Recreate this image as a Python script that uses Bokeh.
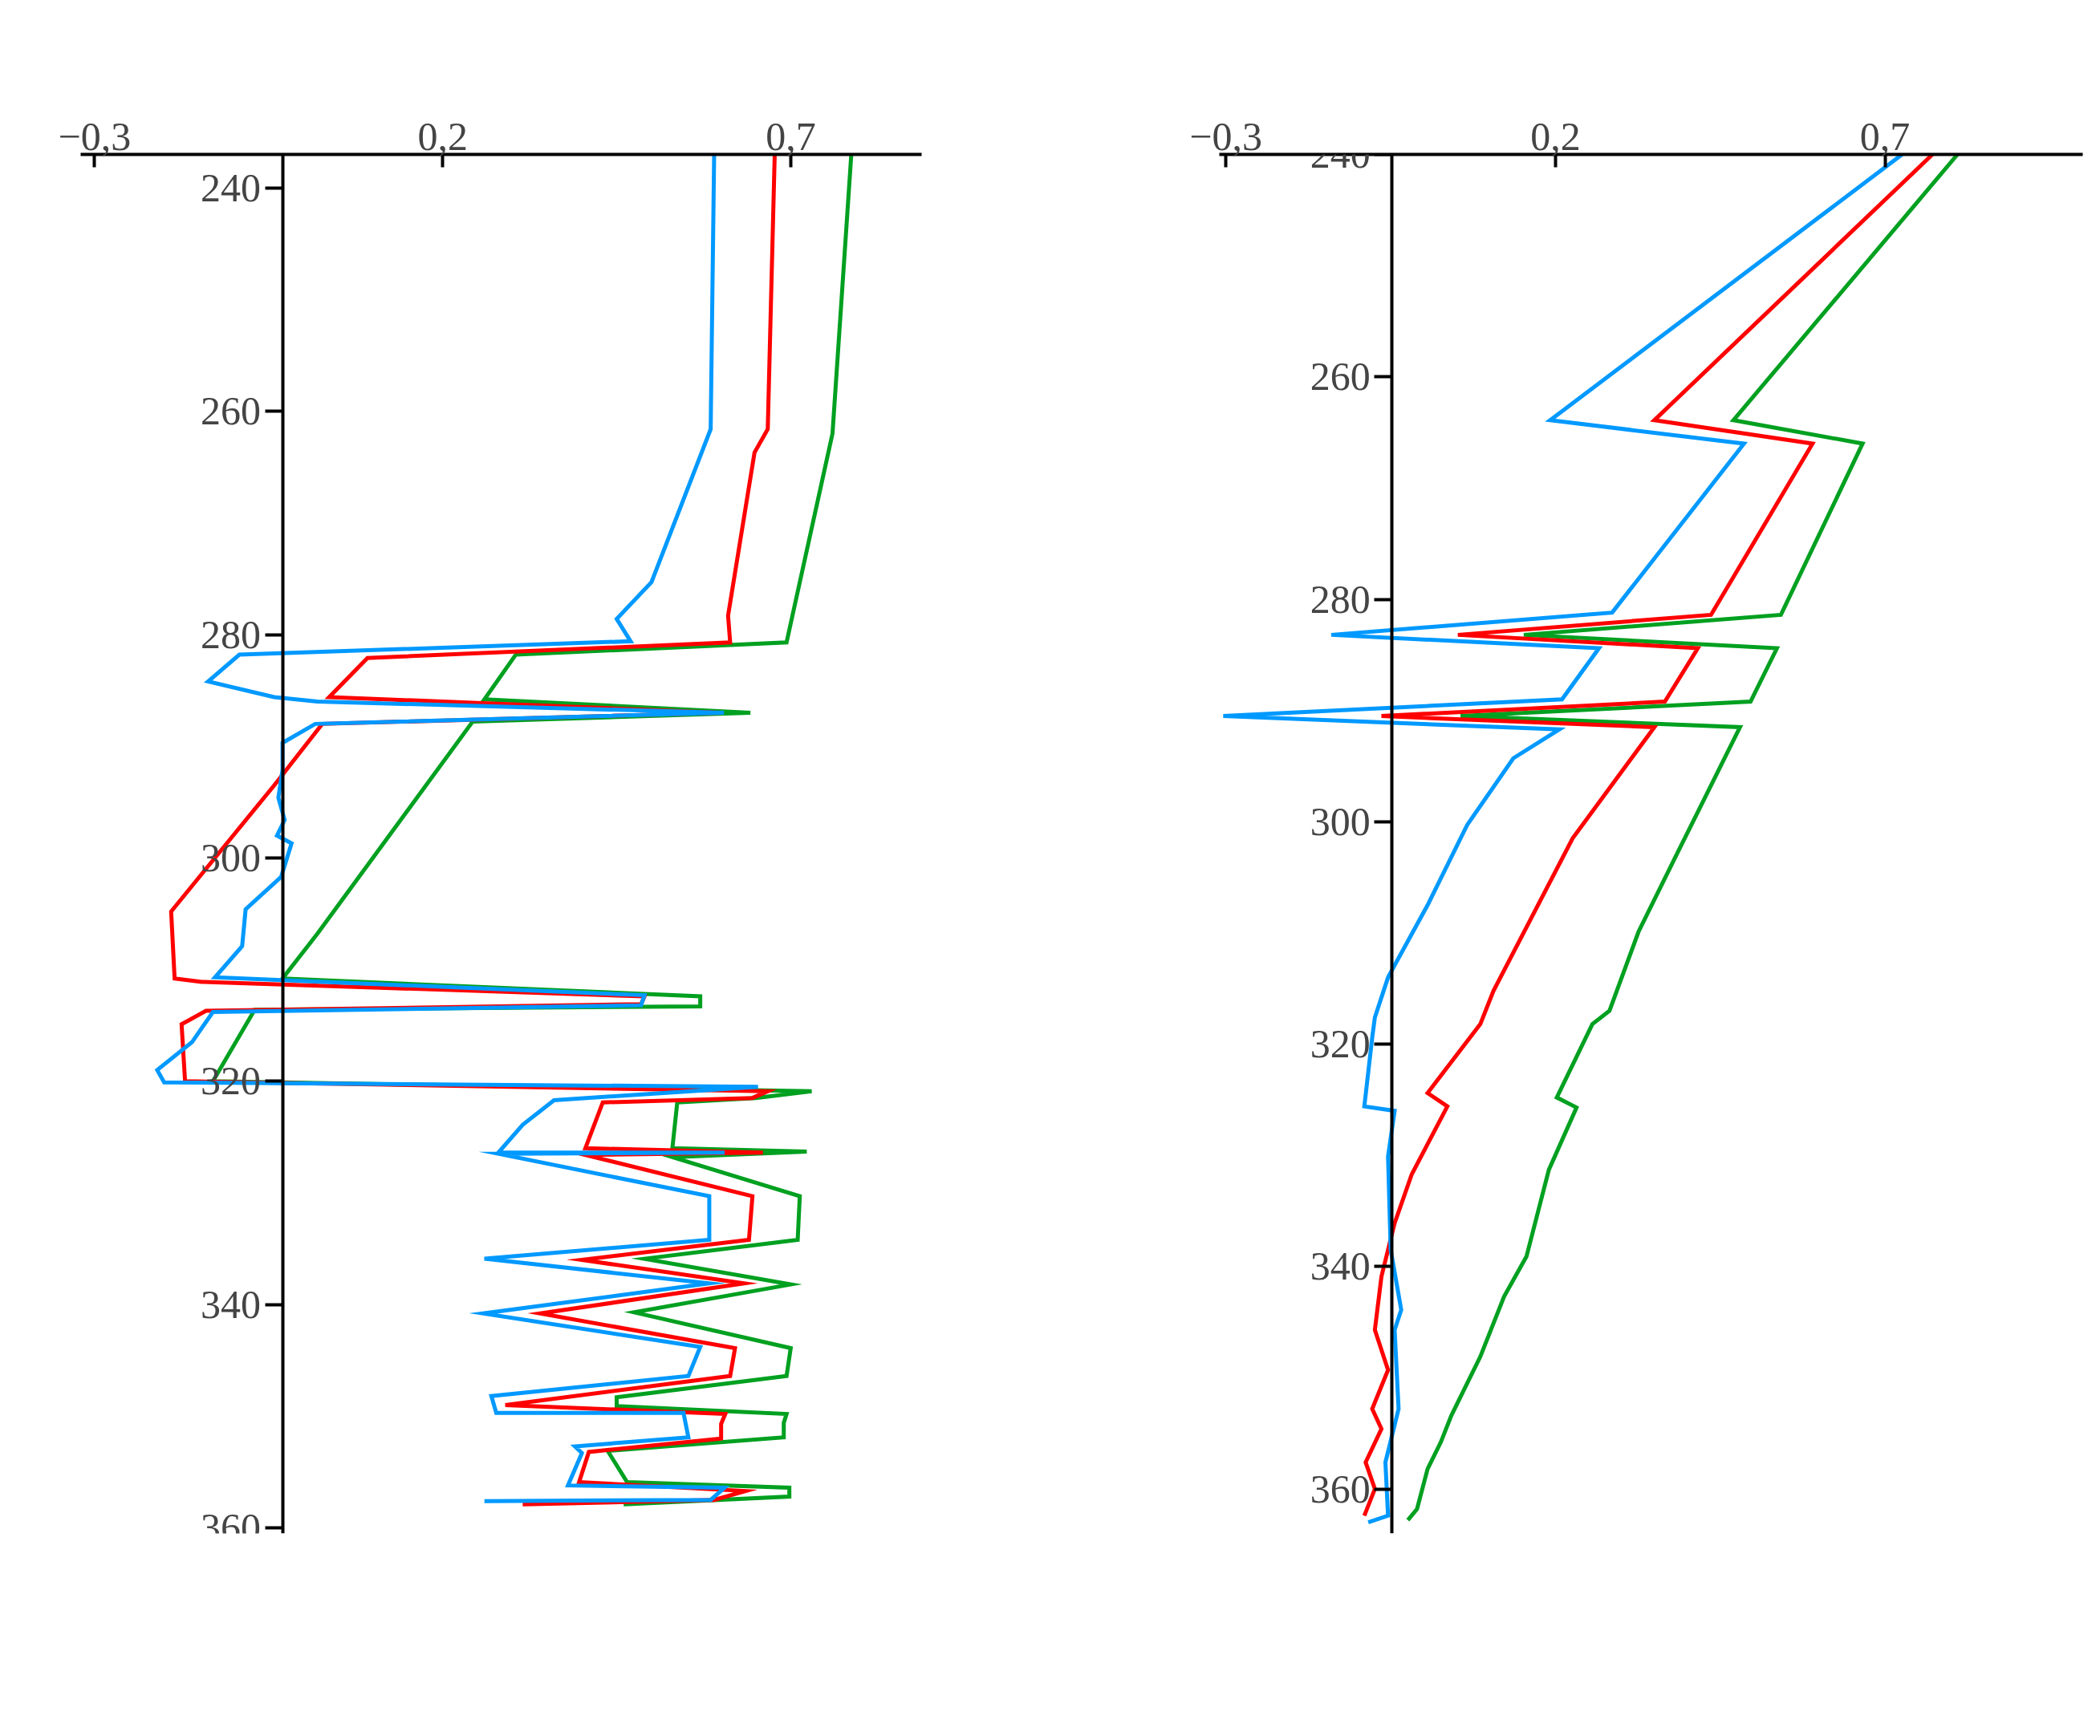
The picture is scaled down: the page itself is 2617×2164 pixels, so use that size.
import math
from bokeh.plotting import figure
from bokeh.models import (LinearAxis, FixedTicker, CustomJSTickFormatter, Range1d, Label)
from bokeh.layouts import row
from bokeh.embed import file_html
from bokeh.resources import INLINE

x_ticks = [-0.3, 0.2, 0.7]
depth_ticks = [240, 260, 280, 300, 320, 340, 360]

# Panel (a)
a_blue_v = [0.59, 0.585, 0.50, 0.45, 0.47, -0.092, -0.137, -0.042, 0.02, 0.604, 0.017, -0.03, -0.03, -0.036, -0.027, -0.038, -0.017, -0.032, -0.083, -0.088, -0.127, 0.49, 0.485, -0.13, -0.16, -0.21, -0.20,
            0.653, 0.36, 0.315, 0.28, 0.605, 0.28, 0.583, 0.583, 0.26, 0.583, 0.258, 0.57, 0.553, 0.27, 0.277, 0.546, 0.553, 0.39, 0.40, 0.38, 0.605, 0.585, 0.26]
a_blue_d = [237, 261.6, 275.3, 278.6, 280.6, 281.8, 284.2, 285.6, 286, 287, 288, 289.7, 292.1, 294.6, 296.6, 298, 298.7, 301.7, 304.6, 307.9, 310.7, 312.3, 313.2, 313.8, 316.5, 319, 320.1,
            320.5, 321.7, 323.9, 326.4, 326.4, 326.5, 330.3, 334.2, 335.9, 338.1, 340.8, 343.8, 346.4, 348.2, 349.7, 349.7, 351.9, 352.7, 353.3, 356.2, 356.4, 357.5, 357.6]
a_red_v = [0.677, 0.667, 0.648, 0.61, 0.613, 0.092, 0.037, 0.60, 0.027, -0.042, -0.19, -0.185, -0.146, 0.49, 0.485, -0.14, -0.175, -0.17,
           0.667, 0.645, 0.43, 0.405, 0.66, 0.405, 0.645, 0.64, 0.40, 0.633, 0.34, 0.62, 0.613, 0.29, 0.606, 0.60, 0.60, 0.41, 0.396, 0.635, 0.59, 0.315]
a_red_d = [237, 261.6, 263.7, 278.3, 280.7, 282.1, 285.6, 287, 288, 293.5, 304.8, 310.8, 311.1, 312.4, 313.1, 313.7, 314.9, 320,
           320.9, 321.5, 321.9, 326, 326.4, 326.6, 330.3, 334.2, 336, 338.1, 340.8, 343.9, 346.4, 349, 349.8, 350.7, 352, 353.2, 355.9, 356.7, 357.5, 357.9]
a_green_v = [0.787, 0.76, 0.694, 0.305, 0.26, 0.642, 0.243, 0.02, -0.03, 0.57, 0.57, -0.07, -0.13,
             0.73, 0.65, 0.537, 0.53, 0.723, 0.53, 0.713, 0.71, 0.49, 0.70, 0.475, 0.70, 0.694, 0.45, 0.45, 0.694, 0.69, 0.69, 0.437, 0.465, 0.698, 0.698, 0.46]
a_green_d = [237, 262, 280.7, 281.8, 285.8, 287, 287.8, 306.8, 310.8, 312.4, 313.3, 313.6, 320,
             320.9, 321.5, 321.9, 326, 326.3, 326.8, 330.3, 334.2, 335.9, 338.2, 340.7, 343.9, 346.4, 348.3, 349.1, 349.8, 350.6, 351.9, 353.1, 355.9, 356.4, 357.2, 357.9]

# Panel (b)
b_blue_v = [0.726, 0.192, 0.486, 0.286, -0.14, 0.266, 0.21, -0.304, 0.206, 0.136, 0.066, 0.006, -0.054, -0.074, -0.078, -0.09, -0.044, -0.054, -0.05, -0.034, -0.044, -0.038, -0.058, -0.054, -0.084]
b_blue_d = [240, 263.9, 266, 281.2, 283.2, 284.4, 289, 290.5, 291.7, 294.3, 300.3, 307.5, 314, 317.6, 319.4, 325.6, 326, 330.1, 338.5, 343.9, 345.7, 352.8, 357.6, 362.4, 363]
b_red_v = [0.772, 0.35, 0.59, 0.436, 0.052, 0.416, 0.366, -0.064, 0.35, 0.226, 0.106, 0.086, 0.006, 0.036, -0.018, -0.044, -0.064, -0.074, -0.054, -0.078, -0.064, -0.088, -0.074, -0.09]
b_red_d = [240, 263.9, 266, 281.4, 283.2, 284.4, 289.2, 290.5, 291.5, 301.5, 315.2, 318.2, 324.4, 325.6, 331.7, 336.1, 340.9, 345.7, 349.3, 352.8, 354.6, 357.6, 360, 362.4]
b_green_v = [0.81, 0.47, 0.666, 0.542, 0.152, 0.536, 0.496, 0.056, 0.48, 0.386, 0.326, 0.282, 0.256, 0.202, 0.232, 0.19, 0.156, 0.122, 0.086, 0.042, 0.026, 0.006, -0.01, -0.024]
b_green_d = [240, 263.9, 266, 281.4, 283.2, 284.4, 289.2, 290.5, 291.5, 302.7, 309.9, 317, 318.2, 324.8, 325.7, 331.3, 339.1, 342.7, 348.1, 353.4, 355.8, 358.2, 361.8, 362.8]

BLUE, RED, GREEN = "#0099FF", "#FF0000", "#00A020"
FONT = "Liberation Serif"
LW = 5

fmt = CustomJSTickFormatter(code="return tick.toFixed(1).replace('.', ',').replace('-', '\u2212');")


def make_panel(xr, yr, axis_x, mb, lines, title, title_pos, ylab_pos):
    p = figure(width=1300, height=2150, output_backend="svg", toolbar_location=None,
               x_range=Range1d(*xr), y_range=Range1d(*yr),
               x_axis_location="above", y_axis_location=None,
               min_border_left=mb[0], min_border_right=mb[1], min_border_top=mb[2], min_border_bottom=mb[3])
    p.outline_line_color = None
    p.grid.visible = False
    p.background_fill_color = "white"
    xa = p.xaxis[0]
    xa.ticker = FixedTicker(ticks=x_ticks)
    xa.formatter = fmt
    xa.major_label_text_font = FONT
    xa.major_label_text_font_size = "50px"
    xa.major_tick_in = 16
    xa.major_tick_out = 0
    xa.minor_tick_line_color = None
    xa.axis_line_width = 4
    xa.major_tick_line_width = 4
    xa.major_label_standoff = 6
    ya = LinearAxis(fixed_location=axis_x, ticker=FixedTicker(ticks=depth_ticks))
    ya.major_label_text_font = FONT
    ya.major_label_text_font_size = "50px"
    ya.major_tick_in = 0
    ya.major_tick_out = 22
    ya.minor_tick_line_color = None
    ya.axis_line_width = 4
    ya.major_tick_line_width = 4
    p.add_layout(ya, "left")
    for v, d, c in lines:
        p.line(v, d, line_color=c, line_width=LW, line_join="miter")
    p.add_layout(Label(x=title_pos[0], y=title_pos[1], text=title, text_font=FONT, text_font_size="62px",
                       text_font_style="bold", text_align="center", text_baseline="middle"))
    p.add_layout(Label(x=ylab_pos[0], y=ylab_pos[1], text="Depth, m", text_font=FONT, text_font_size="46px",
                       angle=math.pi / 2, text_align="center", text_baseline="middle"))
    return p


pa = make_panel((-0.32, 0.888), (360.5, 237.0), -0.03, (100, 152, 112, 239),
                [(a_green_v, a_green_d, GREEN), (a_red_v, a_red_d, RED), (a_blue_v, a_blue_d, BLUE)],
                "(a)", (0.267, 372.8), (-0.377, 296.8))
pb = make_panel((-0.31, 1.0), (364.0, 240.0), -0.048, (219, 5, 192, 225),
                [(b_green_v, b_green_d, GREEN), (b_red_v, b_red_d, RED), (b_blue_v, b_blue_d, BLUE)],
                "(b)", (0.266, 376.0), (-0.418, 350.4))

layout = row(pa, pb)
open("out.html", "w").write(file_html(layout, INLINE))
